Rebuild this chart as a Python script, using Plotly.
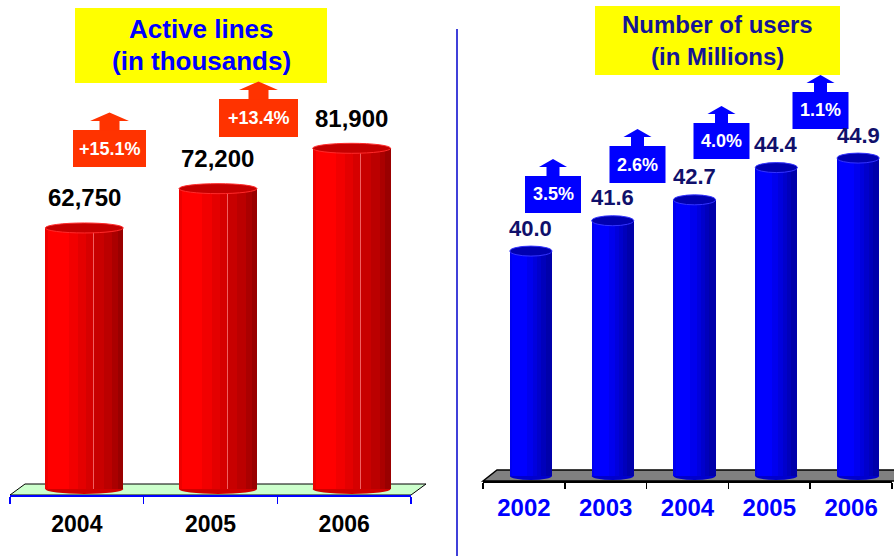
import plotly.graph_objects as go

W_FIG, H_FIG = 894, 556

# ---------------- data ----------------
lines_years = ["2004", "2005", "2006"]
lines_values = [62750, 72200, 81900]
lines_labels = ["62,750", "72,200", "81,900"]
lines_growth = ["+15.1%", "+13.4%"]

users_years = ["2002", "2003", "2004", "2005", "2006"]
users_values = [40.0, 41.6, 42.7, 44.4, 44.9]
users_labels = ["40.0", "41.6", "42.7", "44.4", "44.9"]
users_growth = ["3.5%", "2.6%", "4.0%", "1.1%"]

# ---------------- layout helpers ----------------
FONT = "Liberation Sans, Arial, sans-serif"


def px(x):
    return x / W_FIG


def py(y):
    return 1 - y / H_FIG


# cylinder shading stops (fraction across bar width, colour)
red_stops = [(0.00, 0.04, "#EE0000"), (0.04, 0.30, "#FF0000"), (0.30, 0.42, "#F20000"),
             (0.42, 0.52, "#E40000"), (0.52, 0.61, "#D60000"), (0.61, 0.625, "#F06060"),
             (0.625, 0.75, "#C80000"), (0.75, 0.86, "#BB0000"), (0.86, 0.93, "#AA0000"),
             (0.93, 1.00, "#990000")]
blue_stops = [(0.00, 0.05, "#0000EE"), (0.05, 0.40, "#0000FF"), (0.40, 0.55, "#0000EE"),
              (0.55, 0.65, "#0000DD"), (0.65, 0.75, "#0000CC"), (0.75, 0.85, "#0000BB"),
              (0.85, 1.00, "#0000AA")]

L_W, L_S = 0.5835, 0.056   # bar width and 3D shift (category units), left
R_W, R_S = 0.514, 0.0857   # right

fig = go.Figure()


def add_cylinders(xs, vals, stops, width, shift, xa, ya):
    for t0, t1, col in stops:
        fig.add_trace(go.Bar(
            x=xs, y=vals, width=(t1 - t0) * width,
            offset=shift - width / 2 + t0 * width,
            marker=dict(color=col, line=dict(width=0)),
            opacity=1, xaxis=xa, yaxis=ya, showlegend=False, hoverinfo="skip"))


lx = list(range(len(lines_years)))
rx = list(range(len(users_years)))
add_cylinders(lx, lines_values, red_stops, L_W, L_S, "x", "y")
add_cylinders(rx, users_values, blue_stops, R_W, R_S, "x2", "y2")

shapes = []
# floors (decorative, lower layer)
shapes.append(dict(type="path", xref="paper", yref="paper", layer="below",
                   path=f"M {px(10)},{py(495)} L {px(25)},{py(484)} L {px(426)},{py(484)} L {px(411)},{py(495)} Z",
                   fillcolor="#CCFFCC", line=dict(color="black", width=1)))
shapes.append(dict(type="path", xref="paper", yref="paper", layer="below",
                   path=f"M {px(483)},{py(481)} L {px(497)},{py(470)} L {px(910)},{py(470)} L {px(896)},{py(481)} Z",
                   fillcolor="#808080", line=dict(color="black", width=1.5)))
# cylinder bottoms
for i in lx:
    shapes.append(dict(type="circle", xref="x", yref="paper", layer="below",
                       x0=i + L_S - L_W / 2, x1=i + L_S + L_W / 2, y0=py(494), y1=py(484),
                       fillcolor="#D00000", line=dict(width=0)))
for i in rx:
    shapes.append(dict(type="circle", xref="x2", yref="paper", layer="below",
                       x0=i + R_S - R_W / 2, x1=i + R_S + R_W / 2, y0=py(480), y1=py(472),
                       fillcolor="#0000CC", line=dict(width=0)))
# cylinder tops
for i, v in zip(lx, lines_values):
    shapes.append(dict(type="circle", xref="x", yref="y", ysizemode="pixel", yanchor=v,
                       y0=-5, y1=5, x0=i + L_S - L_W / 2, x1=i + L_S + L_W / 2,
                       fillcolor="#C40000", line=dict(color="#FF2A2A", width=1)))
for i, v in zip(rx, users_values):
    shapes.append(dict(type="circle", xref="x2", yref="y2", ysizemode="pixel", yanchor=v,
                       y0=-5, y1=5, x0=i + R_S - R_W / 2, x1=i + R_S + R_W / 2,
                       fillcolor="#0000B0", line=dict(color="#3333FF", width=1)))

# title boxes
shapes.append(dict(type="rect", xref="paper", yref="paper", x0=px(75), x1=px(327), y0=py(83), y1=py(8),
                   fillcolor="#FFFF00", line=dict(width=0)))
shapes.append(dict(type="rect", xref="paper", yref="paper", x0=px(595), x1=px(840), y0=py(75), y1=py(6),
                   fillcolor="#FFFF00", line=dict(width=0)))
# divider
shapes.append(dict(type="line", xref="paper", yref="paper", x0=px(457), x1=px(457), y0=py(29), y1=py(556),
                   line=dict(color="#0000CC", width=1.5)))

annotations = []


def growth_box(text, cx, top, bw, bh, hh, sh, hb, ha, col):
    shapes.append(dict(type="rect", xref="paper", yref="paper", x0=px(cx - bw / 2), x1=px(cx + bw / 2),
                       y0=py(top + bh), y1=py(top), fillcolor=col, line=dict(width=0)))
    pts = [(cx - sh, top + 0.5), (cx - sh, top - hb), (cx - hh, top - hb), (cx, top - ha),
           (cx + hh, top - hb), (cx + sh, top - hb), (cx + sh, top + 0.5)]
    path = "M " + " L ".join(f"{px(a)},{py(b)}" for a, b in pts) + " Z"
    shapes.append(dict(type="path", xref="paper", yref="paper", path=path, fillcolor=col, line=dict(width=0)))
    annotations.append(dict(text=text, xref="paper", yref="paper", x=px(cx), y=py(top + bh / 2),
                            xanchor="center", yanchor="middle", showarrow=False,
                            font=dict(family=FONT, size=18, color="white", weight="bold")))


# growth badge placement (pixel centre x, top y, box w, box h)
left_badge_pos = [(109.5, 130, 73, 37), (258.5, 99, 79, 38)]
right_badge_pos = [(553, 176, 56, 37), (637.5, 146, 56, 37), (721.5, 123, 56, 36), (820.5, 92, 56, 37)]
for t, (cx, top, bw, bh) in zip(lines_growth, left_badge_pos):
    growth_box(t, cx, top, bw, bh, 19.5, 10, 9, 17.5, "#FF3300")
for t, (cx, top, bw, bh) in zip(users_growth, right_badge_pos):
    growth_box(t, cx, top, bw, bh, 14, 6.5, 9, 17, "#0000FF")

# value labels
for i, (v, t) in zip(lx, zip(lines_values, lines_labels)):
    annotations.append(dict(text=t, xref="x", yref="y", x=i + L_S, y=v, yshift=30,
                            xanchor="center", yanchor="middle", showarrow=False,
                            font=dict(family=FONT, size=24, color="black", weight="bold")))
for i, (v, t) in zip(rx, zip(users_values, users_labels)):
    annotations.append(dict(text=t, xref="x2", yref="y2", x=i + R_S, y=v, yshift=23,
                            xanchor="center", yanchor="middle", showarrow=False,
                            font=dict(family=FONT, size=22, color="#10106B", weight="bold")))

# titles
for t, yy in [("Active lines", 29), ("(in thousands)", 61)]:
    annotations.append(dict(text=t, xref="paper", yref="paper", x=px(201), y=py(yy),
                            xanchor="center", yanchor="middle", showarrow=False,
                            font=dict(family=FONT, size=26, color="#0000FF", weight="bold")))
for t, yy in [("Number of users", 25), ("(in Millions)", 56)]:
    annotations.append(dict(text=t, xref="paper", yref="paper", x=px(717.5), y=py(yy),
                            xanchor="center", yanchor="middle", showarrow=False,
                            font=dict(family=FONT, size=24, color="#141496", weight="bold")))

# axis scales
L_PX_PER_UNIT = 0.00416
L_ZERO_PX = 489
R_PX_PER_UNIT = 18.98
R_BASE = 28.15
R_BASE_PX = 476

fig.update_layout(
    width=W_FIG, height=H_FIG, margin=dict(l=0, r=0, t=0, b=0),
    paper_bgcolor="white", plot_bgcolor="rgba(0,0,0,0)",
    barmode="overlay", bargap=0, showlegend=False,
    shapes=shapes, annotations=annotations,
    xaxis=dict(domain=[px(10), px(411)], range=[-0.5, len(lx) - 0.5], anchor="free", position=py(495),
               tickmode="array", tickvals=lx, ticktext=lines_years, ticks="",
               showline=True, linecolor="#0000FF", linewidth=1.5, showgrid=False, zeroline=False,
               minor=dict(tickmode="array", tickvals=[i - 0.5 for i in range(len(lx) + 1)],
                          ticks="outside", ticklen=7, tickcolor="#0000FF", tickwidth=1.5, showgrid=False),
               tickfont=dict(family=FONT, size=23, color="black", weight="bold"), ticklabelstandoff=8),
    yaxis=dict(domain=[py(500), 1], anchor="x",
               range=[-(500 - L_ZERO_PX) / L_PX_PER_UNIT, L_ZERO_PX / L_PX_PER_UNIT],
               visible=False),
    xaxis2=dict(domain=[px(483), px(892)], range=[-0.5, len(rx) - 0.5], anchor="free", position=py(481),
                tickmode="array", tickvals=rx, ticktext=users_years, ticks="",
                showline=True, linecolor="black", linewidth=1.5, showgrid=False, zeroline=False,
                minor=dict(tickmode="array", tickvals=[i - 0.5 for i in range(len(rx) + 1)],
                           ticks="outside", ticklen=6, tickcolor="black", tickwidth=1.5, showgrid=False),
                tickfont=dict(family=FONT, size=24, color="#0000FF", weight="bold"), ticklabelstandoff=5),
    yaxis2=dict(domain=[py(R_BASE_PX), 1], anchor="x2",
                range=[R_BASE, R_BASE + R_BASE_PX / R_PX_PER_UNIT], visible=False),
)

fig.write_html("out.html", config={"displayModeBar": False, "staticPlot": True},
               post_script="document.body.style.margin='0';document.body.style.overflow='hidden';")
